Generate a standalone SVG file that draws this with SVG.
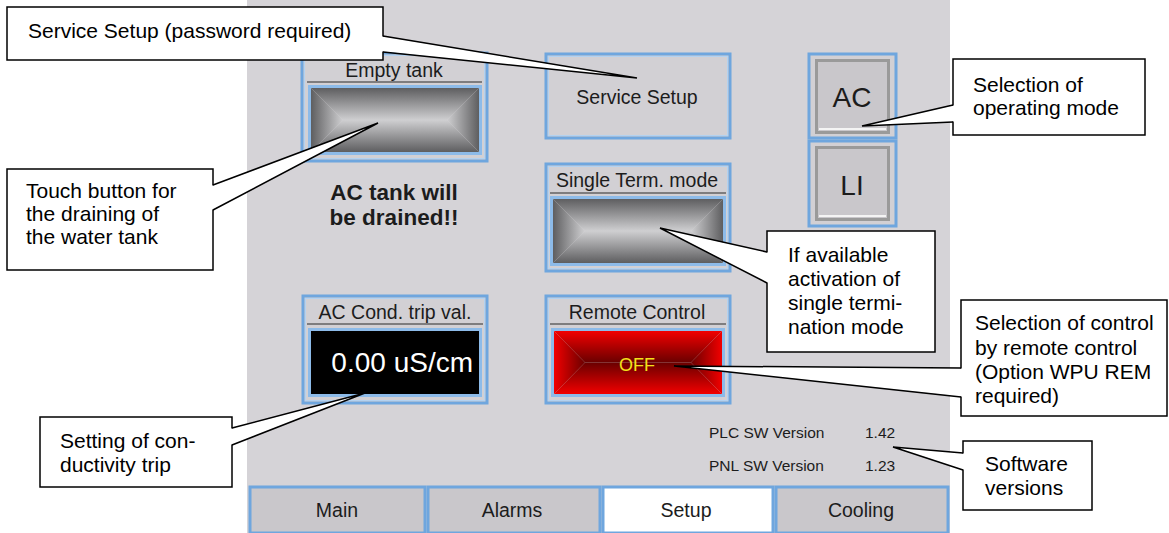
<svg xmlns="http://www.w3.org/2000/svg" width="1169" height="533" viewBox="0 0 1169 533">
<style>
.sans{font-family:"Liberation Sans",Arial,sans-serif}
.pt{font-family:"Liberation Sans",Arial,sans-serif;fill:#1c1c1c}
.tt{font-family:"Liberation Sans",Arial,sans-serif;font-size:19.5px;fill:#1c1c1c;text-anchor:middle}
.ct{font-family:"Liberation Sans",Arial,sans-serif;font-size:21px;fill:#000}
.frame{fill:#d2d0d4;stroke:#6fa6de;stroke-width:3}
.frin{fill:none;stroke:#b4d2f0;stroke-width:1}
.uline{stroke:#2a2a2a;stroke-width:1.2}
.inner{fill:none;stroke:#8dbbe9;stroke-width:3}
.box{fill:#fff;stroke:#000;stroke-width:1.5}
.ptr{fill:none;stroke:#000;stroke-width:1.5;stroke-linejoin:miter}
.pfill{fill:#fff;stroke:none}
.tab{fill:#c9c7cb;stroke:#6fa6de;stroke-width:3}
.btn{fill:#c9c7cb;stroke:#9a9a9a;stroke-width:3}
</style>
<defs>
<linearGradient id="gT" x1="0" y1="0" x2="0" y2="1"><stop offset="0" stop-color="#5e5e60"/><stop offset="1" stop-color="#cfcfd1"/></linearGradient>
<linearGradient id="gB" x1="0" y1="0" x2="0" y2="1"><stop offset="0" stop-color="#cfcfd1"/><stop offset="1" stop-color="#5e5e60"/></linearGradient>
<linearGradient id="gL" x1="0" y1="0" x2="1" y2="0"><stop offset="0" stop-color="#5e5e60"/><stop offset="1" stop-color="#cfcfd1"/></linearGradient>
<linearGradient id="gR" x1="0" y1="0" x2="1" y2="0"><stop offset="0" stop-color="#cfcfd1"/><stop offset="1" stop-color="#5e5e60"/></linearGradient>
<linearGradient id="rT" x1="0" y1="0" x2="0" y2="1"><stop offset="0" stop-color="#f20000"/><stop offset="1" stop-color="#6a0000"/></linearGradient>
<linearGradient id="rB" x1="0" y1="0" x2="0" y2="1"><stop offset="0" stop-color="#6a0000"/><stop offset="1" stop-color="#f20000"/></linearGradient>
<linearGradient id="rL" x1="0" y1="0" x2="1" y2="0"><stop offset="0" stop-color="#f20000"/><stop offset="1" stop-color="#6a0000"/></linearGradient>
<linearGradient id="rR" x1="0" y1="0" x2="1" y2="0"><stop offset="0" stop-color="#6a0000"/><stop offset="1" stop-color="#f20000"/></linearGradient>
</defs>

<rect id="panel" x="247" y="0" width="703" height="533" fill="#d5d3d7"/>

<g id="empty-tank">
<rect class="frame" x="302" y="53" width="185" height="108"/>
<rect class="frin" x="304.5" y="55.5" width="180" height="103"/>
<text class="tt" x="394" y="77">Empty tank</text>
<line class="uline" x1="307" y1="82" x2="482" y2="82"/>
<rect class="inner" x="309.5" y="86.5" width="171" height="67"/>
<polygon fill="url(#gT)" points="311,88 479,88 447,120 343,120"/>
<polygon fill="url(#gB)" points="311,152 479,152 447,120 343,120"/>
<polygon fill="url(#gL)" points="311,88 343,120 311,152"/>
<polygon fill="url(#gR)" points="479,88 447,120 479,152"/>
</g>

<g id="drain-warning">
<text class="pt" x="394" y="200" font-size="22.5" font-weight="bold" text-anchor="middle">AC tank will</text>
<text class="pt" x="394" y="225" font-size="22.5" font-weight="bold" text-anchor="middle">be drained!!</text>
</g>

<g id="service-setup">
<rect class="frame" x="546" y="54" width="184" height="84"/>
<rect class="frin" x="548.5" y="56.5" width="179" height="79"/>
<text class="tt" x="637" y="104">Service Setup</text>
</g>

<g id="single-term">
<rect class="frame" x="546" y="164" width="184" height="107"/>
<rect class="frin" x="548.5" y="166.5" width="179" height="102"/>
<text class="tt" x="637" y="187">Single Term. mode</text>
<line class="uline" x1="550" y1="193" x2="726" y2="193"/>
<rect class="inner" x="551.5" y="197.5" width="173" height="67"/>
<polygon fill="url(#gT)" points="553,199 723,199 691,231 585,231"/>
<polygon fill="url(#gB)" points="553,263 723,263 691,231 585,231"/>
<polygon fill="url(#gL)" points="553,199 585,231 553,263"/>
<polygon fill="url(#gR)" points="723,199 691,231 723,263"/>
</g>

<g id="mode-ac">
<rect class="frame" x="809" y="54" width="87" height="84"/>
<rect class="btn" x="816.5" y="60.5" width="72" height="72"/>
<line x1="819" y1="129" x2="886" y2="129" stroke="#f4f4f4" stroke-width="2"/>
<text class="pt" x="852" y="107" font-size="28" text-anchor="middle">AC</text>
</g>

<g id="mode-li">
<rect class="frame" x="809" y="141" width="87" height="85"/>
<rect class="btn" x="816.5" y="147.5" width="72" height="72"/>
<line x1="819" y1="216" x2="886" y2="216" stroke="#f4f4f4" stroke-width="2"/>
<text class="pt" x="852" y="195" font-size="28" text-anchor="middle">LI</text>
</g>

<g id="cond-trip">
<rect class="frame" x="303" y="296" width="184" height="107"/>
<rect class="frin" x="305.5" y="298.5" width="179" height="102"/>
<text class="tt" x="395" y="319">AC Cond. trip val.</text>
<line class="uline" x1="307" y1="324" x2="483" y2="324"/>
<rect class="inner" x="309.5" y="329.5" width="171" height="66"/>
<rect x="311" y="331" width="168" height="63" fill="#000"/>
<text class="sans" x="473" y="372" font-size="28" fill="#fff" text-anchor="end">0.00 uS/cm</text>
</g>

<g id="remote-control">
<rect class="frame" x="546" y="296" width="184" height="107"/>
<rect class="frin" x="548.5" y="298.5" width="179" height="102"/>
<text class="tt" x="637" y="319">Remote Control</text>
<line class="uline" x1="550" y1="324" x2="726" y2="324"/>
<rect class="inner" x="552.5" y="329.5" width="171" height="66"/>
<polygon fill="url(#rT)" points="554,331 722,331 691,362.5 585,362.5"/>
<polygon fill="url(#rB)" points="554,394 722,394 691,362.5 585,362.5"/>
<polygon fill="url(#rL)" points="554,331 585,362.5 554,394"/>
<polygon fill="url(#rR)" points="722,331 691,362.5 722,394"/>
<text class="sans" x="637" y="371" font-size="18" fill="#f4e21c" text-anchor="middle">OFF</text>
</g>

<g id="versions">
<text class="pt" x="709" y="438" font-size="15.5" fill="#4a3444">PLC SW Version</text>
<text class="pt" x="865" y="438" font-size="15.5" fill="#4a3444">1.42</text>
<text class="pt" x="709" y="471" font-size="15.5" fill="#4a3444">PNL SW Version</text>
<text class="pt" x="865" y="471" font-size="15.5" fill="#4a3444">1.23</text>
</g>

<g id="tab-main"><rect class="tab" x="250" y="487" width="175" height="46"/><text class="tt" x="337" y="517">Main</text></g>
<g id="tab-alarms"><rect class="tab" x="428" y="487" width="172" height="46"/><text class="tt" x="512" y="517">Alarms</text></g>
<g id="tab-setup"><rect class="tab" x="603" y="487" width="170" height="46" fill="#fff" style="fill:#fff"/><text class="tt" x="686" y="517">Setup</text></g>
<g id="tab-cooling"><rect class="tab" x="776" y="487" width="172" height="46"/><text class="tt" x="861" y="517">Cooling</text></g>

<g id="callout-service">
<rect class="box" x="7" y="7" width="376" height="53"/>
<text class="ct" x="28" y="38">Service Setup (password required)</text>
</g>
<g id="callout-touch">
<rect class="box" x="7" y="169" width="206" height="101"/>
<text class="ct" x="26" y="198">Touch button for</text>
<text class="ct" x="26" y="221">the draining of</text>
<text class="ct" x="26" y="244">the water tank</text>
</g>
<g id="callout-setting">
<rect class="box" x="40" y="417" width="192" height="70"/>
<text class="ct" x="60" y="448">Setting of con-</text>
<text class="ct" x="60" y="472">ductivity trip</text>
</g>
<g id="callout-mode">
<rect class="box" x="953" y="59" width="192" height="76"/>
<text class="ct" x="973" y="92">Selection of</text>
<text class="ct" x="973" y="115">operating mode</text>
</g>
<g id="callout-single">
<rect class="box" x="767" y="231" width="168" height="121"/>
<text class="ct" x="788" y="262">If available</text>
<text class="ct" x="788" y="286">activation of</text>
<text class="ct" x="788" y="310">single termi-</text>
<text class="ct" x="788" y="334">nation mode</text>
</g>
<g id="callout-remote">
<rect class="box" x="961" y="300" width="206" height="116"/>
<text class="ct" x="975" y="330">Selection of control</text>
<text class="ct" x="975" y="355">by remote control</text>
<text class="ct" x="975" y="379">(Option WPU REM</text>
<text class="ct" x="975" y="403">required)</text>
</g>
<g id="callout-software">
<rect class="box" x="963" y="441" width="129" height="69"/>
<text class="ct" x="985" y="471">Software</text>
<text class="ct" x="985" y="495">versions</text>
</g>

<g id="connectors">
<polygon class="pfill" points="381,36.5 383,36.5 637,78 383,51.5 381,51.5"/>
<polyline class="ptr" points="383,36 637,78 383,52"/>
<polygon class="pfill" points="211,185.5 213,185.5 378,123 213,209.5 211,209.5"/>
<polyline class="ptr" points="213,185 378,123 213,210"/>
<polygon class="pfill" points="230,428.5 232,428.5 365,393 232,444.5 230,444.5"/>
<polyline class="ptr" points="232,428 365,393 232,445"/>
<polygon class="pfill" points="955,105.5 953,105.5 862,126 953,121.5 955,121.5"/>
<polyline class="ptr" points="953,105 862,126 953,122"/>
<polygon class="pfill" points="769,252.5 767,252.5 660,228 767,282.5 769,282.5"/>
<polyline class="ptr" points="767,252 660,228 767,283"/>
<polygon class="pfill" points="963,368.5 961,368.5 674,366 961,396.5 963,396.5"/>
<polyline class="ptr" points="961,368 674,366 961,397"/>
<polygon class="pfill" points="965,453.5 963,453.5 893,447 963,469.5 965,469.5"/>
<polyline class="ptr" points="963,453 893,447 963,470"/>
</g>
</svg>
